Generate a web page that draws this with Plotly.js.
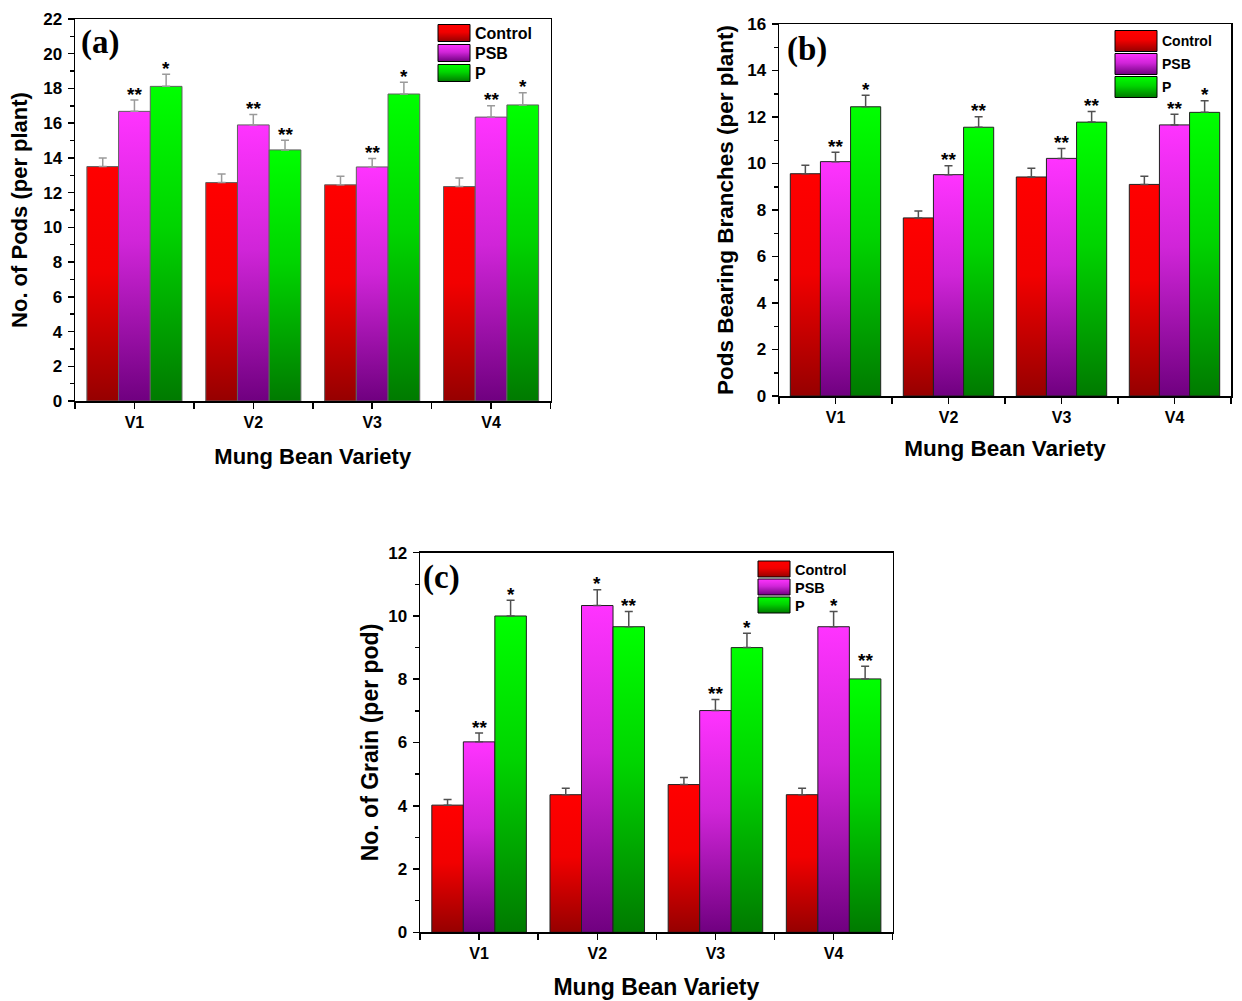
<!DOCTYPE html>
<html>
<head>
<meta charset="utf-8">
<script src="https://cdn.plot.ly/plotly-3.0.1.min.js"></script>
<style>html,body{margin:0;padding:0;background:#fff;}#chart{width:1242px;height:1001px;}</style>
</head>
<body>
<div id="chart"></div>
<script>
// ---------- data ----------
const categories = ['V1', 'V2', 'V3', 'V4'];
const seriesNames = ['Control', 'PSB', 'P'];

// (a) No. of Pods (per plant)
const podsControl = [13.5, 12.58, 12.45, 12.35];
const podsControlErr = [0.5, 0.5, 0.5, 0.5];
const podsPSB = [16.68, 15.9, 13.48, 16.35];
const podsPSBErr = [0.65, 0.6, 0.48, 0.65];
const podsP = [18.12, 14.46, 17.68, 17.05];
const podsPErr = [0.7, 0.55, 0.68, 0.7];
const podsSigControl = ['', '', '', ''];
const podsSigPSB = ['**', '**', '**', '**'];
const podsSigP = ['*', '**', '*', '*'];

// (b) Pods Bearing Branches (per plant)
const branchControl = [9.56, 7.66, 9.42, 9.1];
const branchControlErr = [0.36, 0.3, 0.38, 0.35];
const branchPSB = [10.08, 9.52, 10.22, 11.66];
const branchPSBErr = [0.4, 0.38, 0.42, 0.46];
const branchP = [12.44, 11.56, 11.78, 12.2];
const branchPErr = [0.5, 0.45, 0.46, 0.5];
const branchSigControl = ['', '', '', ''];
const branchSigPSB = ['**', '**', '**', '**'];
const branchSigP = ['*', '**', '**', '*'];

// (c) No. of Grain (per pod)
const grainControl = [4.02, 4.35, 4.67, 4.35];
const grainControlErr = [0.18, 0.2, 0.22, 0.2];
const grainPSB = [6.02, 10.33, 7.01, 9.66];
const grainPSBErr = [0.28, 0.5, 0.35, 0.48];
const grainP = [10.0, 9.66, 9.0, 8.01];
const grainPErr = [0.5, 0.48, 0.45, 0.4];
const grainSigControl = ['', '', '', ''];
const grainSigPSB = ['**', '*', '**', '*'];
const grainSigP = ['*', '**', '*', '**'];

const yTitles = ['No. of Pods (per plant)', 'Pods Bearing Branches (per plant)', 'No. of Grain (per pod)'];
const xTitle = 'Mung Bean Variety';
const panelLabels = ['(a)', '(b)', '(c)'];

// ---------- styling ----------
const FONT = 'Arial, "Liberation Sans", sans-serif';
const SERIF = '"Times New Roman", "Liberation Serif", serif';
const W = 1242, H = 1001;
const baseColors = ['#ff0000', '#f030f0', '#00e600'];
const gradStops = [
  [['0%', '#ff0000'], ['45%', '#f20000'], ['100%', '#960000']],
  [['0%', '#ff33ff'], ['45%', '#d025d8'], ['100%', '#700080']],
  [['0%', '#00ff00'], ['45%', '#00d400'], ['100%', '#007a00']]
];

const panels = [
  { vals: [podsControl, podsPSB, podsP], errs: [podsControlErr, podsPSBErr, podsPErr],
    sig: [podsSigControl, podsSigPSB, podsSigP], ymax: 22,
    box: [75, 550.5, 19, 401], outline: '#606060', errColor: '#9a9a9a',
    titleSize: 22, xStand: 19, yStand: 9,
    legend: { text: 475, c0: 33, sp: 20, w: 32, h: 17, fs: 16 } },
  { vals: [branchControl, branchPSB, branchP], errs: [branchControlErr, branchPSBErr, branchPErr],
    sig: [branchSigControl, branchSigPSB, branchSigP], ymax: 16,
    box: [779, 1231, 24, 396], outline: '#202020', errColor: '#505050',
    titleSize: 22.5, xStand: 15, yStand: 7,
    legend: { text: 1162, c0: 41, sp: 23, w: 42, h: 21, fs: 14 } },
  { vals: [grainControl, grainPSB, grainP], errs: [grainControlErr, grainPSBErr, grainPErr],
    sig: [grainSigControl, grainSigPSB, grainSigP], ymax: 12,
    box: [420, 892.7, 552.7, 932.3], outline: '#202020', errColor: '#505050',
    titleSize: 23, xStand: 18, yStand: 3,
    legend: { text: 795, c0: 569, sp: 18, w: 32, h: 16, fs: 14.5 } }
];
const labelPos = [[79, 43], [785, 50], [421, 577]];

const catIdx = categories.map((c, i) => i);
const data = [];
const annotations = [];
const layout = {
  width: W, height: H,
  margin: { l: 0, r: 0, t: 0, b: 0 },
  paper_bgcolor: '#fff', plot_bgcolor: '#fff',
  showlegend: true,
  barmode: 'group', bargap: 0.2, bargroupgap: 0,
  font: { family: FONT, color: '#000' },
  annotations: annotations
};

panels.forEach((p, pi) => {
  const sfx = pi === 0 ? '' : String(pi + 1);
  const xa = 'x' + sfx, ya = 'y' + sfx;
  const legName = 'legend' + sfx;
  const [x0, x1, y0, y1] = p.box;
  const xTickFont = { family: FONT, size: 16, color: '#000', weight: 'bold' };
  const yTickFont = { family: FONT, size: 17, color: '#000', weight: 'bold' };
  layout['xaxis' + sfx] = {
    domain: [x0 / W, x1 / W], anchor: ya, range: [-0.5, 3.5],
    tickmode: 'array', tickvals: catIdx, ticktext: categories,
    ticks: 'outside', ticklen: 6, tickwidth: 1.5, tickcolor: '#000',
    minor: { tickmode: 'linear', tick0: -0.5, dtick: 1, ticks: 'outside', ticklen: 6, tickwidth: 1.5, tickcolor: '#000' },
    showline: true, linewidth: 1.5, linecolor: '#000', mirror: true,
    showgrid: false, zeroline: false, fixedrange: true,
    tickfont: xTickFont,
    title: { text: xTitle, font: { family: FONT, size: p.titleSize, color: '#000', weight: 'bold' }, standoff: p.xStand }
  };
  layout['yaxis' + sfx] = {
    domain: [1 - y1 / H, 1 - y0 / H], anchor: xa, range: [0, p.ymax],
    tickmode: 'linear', tick0: 0, dtick: 2,
    ticks: 'outside', ticklen: 6, tickwidth: 1.5, tickcolor: '#000', ticklabelstandoff: 2,
    minor: { dtick: 1, ticks: 'outside', ticklen: 3.5, tickwidth: 1.5, tickcolor: '#000' },
    showline: true, linewidth: 1.5, linecolor: '#000', mirror: true,
    showgrid: false, zeroline: false, fixedrange: true,
    tickfont: yTickFont,
    title: { text: yTitles[pi], font: { family: FONT, size: p.titleSize, color: '#000', weight: 'bold' }, standoff: p.yStand }
  };
  layout[legName] = {
    x: (p.legend.text - 40) / W, y: 1 - (p.legend.c0 - 12) / H, xanchor: 'left', yanchor: 'top',
    bgcolor: 'rgba(0,0,0,0)', borderwidth: 0, tracegroupgap: 0, itemwidth: 30,
    font: { family: FONT, size: p.legend.fs, color: '#000', weight: 'bold' }
  };
  const barW = (1 - layout.bargap) / seriesNames.length;
  seriesNames.forEach((name, si) => {
    data.push({
      type: 'bar', name: name, x: catIdx, y: p.vals[si],
      xaxis: xa, yaxis: ya, legend: legName,
      marker: { color: baseColors[si], line: { color: p.outline, width: 1 } },
      error_y: { type: 'data', symmetric: false, array: p.errs[si], arrayminus: p.errs[si].map(() => 0),
                 color: p.errColor, thickness: 1.5, width: 4 },
      hoverinfo: 'skip'
    });
    p.sig[si].forEach((s, ci) => {
      if (!s) return;
      annotations.push({
        xref: xa, yref: ya, x: catIdx[ci] + (si - 1) * barW, y: p.vals[si][ci] + p.errs[si][ci],
        text: s, showarrow: false, xanchor: 'center', yanchor: 'middle', yshift: 6,
        font: { family: FONT, size: 19, color: '#000', weight: 'bold' }
      });
    });
  });
  annotations.push({
    xref: 'paper', yref: 'paper', x: labelPos[pi][0] / W, y: 1 - labelPos[pi][1] / H,
    xanchor: 'left', yanchor: 'middle', text: '<b>' + panelLabels[pi] + '</b>', showarrow: false,
    font: { family: SERIF, size: 33, color: '#000' }
  });
});

const gd = document.getElementById('chart');
const SVGNS = 'http://www.w3.org/2000/svg';

function ensureDefs(svg) {
  if (svg.querySelector('defs.bar-grad-defs')) return;
  const defs = document.createElementNS(SVGNS, 'defs');
  defs.setAttribute('class', 'bar-grad-defs');
  gradStops.forEach((stops, si) => {
    const lg = document.createElementNS(SVGNS, 'linearGradient');
    lg.setAttribute('id', 'barGrad' + si);
    lg.setAttribute('x1', '0'); lg.setAttribute('y1', '0');
    lg.setAttribute('x2', '0'); lg.setAttribute('y2', '1');
    stops.forEach(([off, col]) => {
      const st = document.createElementNS(SVGNS, 'stop');
      st.setAttribute('offset', off); st.setAttribute('stop-color', col);
      lg.appendChild(st);
    });
    defs.appendChild(lg);
  });
  svg.insertBefore(defs, svg.firstChild);
}

function applyStyling() {
  const svgs = gd.querySelectorAll('svg.main-svg');
  if (!svgs.length) return;
  ensureDefs(svgs[0]);
  // bars: vertical gradient fill per series
  gd.querySelectorAll('.barlayer .trace.bars').forEach((tr, ti) => {
    const si = ti % seriesNames.length;
    tr.querySelectorAll('.point path').forEach(path => { path.style.fill = 'url(#barGrad' + si + ')'; });
  });
  // legends: larger gradient swatches, fixed row spacing
  panels.forEach((p, pi) => {
    const cls = pi === 0 ? 'legend' : 'legend' + (pi + 1);
    const leg = gd.querySelector('g.' + cls);
    if (!leg) return;
    leg.querySelectorAll('[clip-path]').forEach(e => e.removeAttribute('clip-path'));
    const items = leg.querySelectorAll('g.traces');
    items.forEach((item, ii) => {
      const txt = item.querySelector('text.legendtext');
      const tx = txt ? (parseFloat(txt.getAttribute('x')) || 0) : 40;
      const parentCTM = item.parentNode.getCTM();
      const yc = p.legend.c0 + ii * p.legend.sp;
      const originX = p.legend.text - tx;
      item.setAttribute('transform', 'translate(' + (originX - parentCTM.e) + ',' + (yc - parentCTM.f) + ')');
      const path = item.querySelector('.legendpoints path');
      if (path) {
        const m = path.getCTM();
        const r = p.legend.text - 5 - m.e, l = r - p.legend.w;
        const t = yc - p.legend.h / 2 - m.f, b = t + p.legend.h;
        path.setAttribute('d', 'M' + r + ',' + b + 'H' + l + 'V' + t + 'H' + r + 'Z');
        path.style.fill = 'url(#barGrad' + ii + ')';
        path.style.stroke = '#000';
        path.style.strokeWidth = '1px';
      }
    });
  });
}

Plotly.newPlot(gd, data, layout, { staticPlot: true, displayModeBar: false }).then(() => {
  applyStyling();
  gd.on('plotly_afterplot', applyStyling);
  setTimeout(applyStyling, 350);
  setTimeout(applyStyling, 900);
});
</script>
</body>
</html>
